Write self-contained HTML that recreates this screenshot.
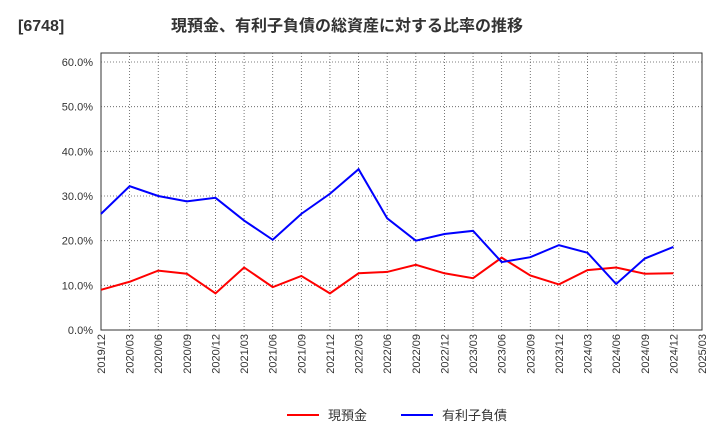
<!DOCTYPE html>
<html><head><meta charset="utf-8"><style>
body{margin:0;background:#fff;font-family:"Liberation Sans","Noto Sans CJK JP",sans-serif;}
</style></head><body>
<svg id="chart" width="720" height="440" style="display:block">
<g>
<text x="18" y="31" font-size="16" font-weight="bold" fill="#333">[6748]</text>
<text x="171" y="31" font-size="16" font-weight="bold" fill="#333">現預金、有利子負債の総資産に対する比率の推移</text>
</g>
<rect x="101" y="53" width="601" height="277" fill="none" stroke="#333"/>
<g id="grid"></g><g id="axes"></g><g id="series"></g>
<g>
<line x1="287" y1="415" x2="319" y2="415" stroke="#f00" stroke-width="2"/>
<text x="328" y="420" font-size="13" fill="#333">現預金</text>
<line x1="401" y1="415" x2="433" y2="415" stroke="#00f" stroke-width="2"/>
<text x="442" y="420" font-size="13" fill="#333">有利子負債</text>
</g>
</svg>
<script>
const categories=["2019/12","2020/03","2020/06","2020/09","2020/12","2021/03","2021/06","2021/09","2021/12","2022/03","2022/06","2022/09","2022/12","2023/03","2023/06","2023/09","2023/12","2024/03","2024/06","2024/09","2024/12","2025/03"];
const cashValues=[9,10.8,13.3,12.6,8.2,14,9.6,12.1,8.2,12.7,13,14.6,12.7,11.6,16.2,12.2,10.2,13.4,14,12.6,12.7];
const debtValues=[26,32.2,30,28.8,29.6,24.5,20.2,26,30.5,36,25,20,21.5,22.2,15.2,16.3,19,17.3,10.3,16,18.6];
const yTicks=[0,10,20,30,40,50,60];
const NS="http://www.w3.org/2000/svg";
const x=i=>101+i*(601/(categories.length-1));
const y=v=>330-v*(268/60);
function mk(tag,attrs,parent){const e=document.createElementNS(NS,tag);for(const k in attrs)e.setAttribute(k,attrs[k]);document.getElementById(parent).appendChild(e);return e;}
categories.forEach((c,i)=>{
 if(i>0&&i<categories.length-1){const l=mk("line",{x1:x(i),x2:x(i),y1:53,y2:330,stroke:"#555","stroke-dasharray":"1,2","stroke-width":0.8},"grid");
 
 }
 const t=mk("text",{x:x(i)+4,y:334,"font-size":11,fill:"#333","text-anchor":"end",transform:`rotate(-90 ${x(i)+4} 334)`},"axes");
 t.textContent=c;
 
 
});
yTicks.forEach(v=>{
 if(v>0){const l=mk("line",{x1:101,x2:702,y1:y(v),y2:y(v),stroke:"#555","stroke-dasharray":"1,2","stroke-width":0.8},"grid");
 
 }
 const t=mk("text",{x:93,y:y(v)+4,"font-size":11,fill:"#333","text-anchor":"end"},"axes");
 t.textContent=v.toFixed(1)+"%";
 
 
});
const cp=mk("polyline",{points:cashValues.map((v,i)=>x(i)+","+y(v)).join(" "),fill:"none",stroke:"#f00","stroke-width":2},"series");


const dp=mk("polyline",{points:debtValues.map((v,i)=>x(i)+","+y(v)).join(" "),fill:"none",stroke:"#00f","stroke-width":2},"series");


</script>
</body></html>
